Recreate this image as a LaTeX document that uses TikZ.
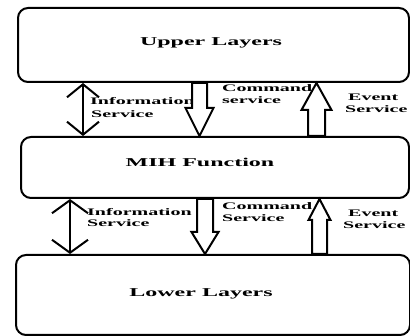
\documentclass[tikz,border=0pt]{standalone}
\usepackage{fontspec}
\newfontfamily\diafont{Liberation Serif}[FakeStretch=2.0]
\usetikzlibrary{arrows.meta,calc}
\newcommand\mihdown[5]{%
  \draw[blockarrow] let \p1=(#1), \p2=(#2) in
    (\x1-#3,\y1) -- (\x1-#3,\y2+#5) -- (\x1-#4,\y2+#5) -- (\x1,\y2)
    -- (\x1+#4,\y2+#5) -- (\x1+#3,\y2+#5) -- (\x1+#3,\y1) -- cycle;}
\newcommand\mihup[5]{%
  \draw[blockarrow] let \p1=(#1), \p2=(#2) in
    (\x1-#3,\y1) -- (\x1-#3,\y2-#5) -- (\x1-#4,\y2-#5) -- (\x1,\y2)
    -- (\x1+#4,\y2-#5) -- (\x1+#3,\y2-#5) -- (\x1+#3,\y1) -- cycle;}
\tikzset{
  layerbox/.style={draw, line width=2pt, rounded corners=10pt, inner sep=0pt, anchor=north west},
  boxtext/.style={font=\diafont\bfseries\fontsize{12}{14}\selectfont, inner sep=0pt, anchor=base},
  labeltext/.style={font=\diafont\bfseries\fontsize{10}{12}\selectfont, inner sep=0pt, anchor=base west},
  blockarrow/.style={draw, fill=white, line width=2pt, line join=miter},
  infoarrow/.style={line width=2pt, {Straight Barb[length=13pt,width=#1]}-{Straight Barb[length=13pt,width=#1]}}
}
\begin{document}
\begin{tikzpicture}[x=1pt,y=-1pt]
\useasboundingbox (0,0) rectangle (410,336);
\fill[white] (0,0) rectangle (410,336);
% boxes
\node[layerbox, minimum width=391pt, minimum height=74pt] (upper) at (17,7) {};
\node[layerbox, minimum width=388pt, minimum height=61pt] (mih) at (20,136) {};
\node[layerbox, minimum width=394pt, minimum height=80pt] (lower) at (15,254) {};
\node[boxtext] (uppertext) at (211,46) {Upper Layers};
\node[boxtext] (mihtext) at (200,166.5) {MIH Function};
\node[boxtext] (lowertext) at (201,296.5) {Lower Layers};
% labels, upper gap
\node[labeltext] (info1a) at (90,105) {Information};
\node[labeltext] (info1b) at (91,118) {Service};
\node[labeltext] (cmd1a) at (222,92) {Command};
\node[labeltext] (cmd1b) at (222,104) {service};
\node[labeltext] (ev1a) at (348,101) {Event};
\node[labeltext] (ev1b) at (345,113) {Service};
% labels, lower gap
\node[labeltext] (info2a) at (87,216) {Information};
\node[labeltext] (info2b) at (87,227) {Service};
\node[labeltext] (cmd2a) at (222,210) {Command};
\node[labeltext] (cmd2b) at (222,222) {Service};
\node[labeltext] (ev2a) at (348,217) {Event};
\node[labeltext] (ev2b) at (343,229) {Service};
% arrow positions
\coordinate (infoT) at (83,0);
\coordinate (infoB) at (70,0);
\coordinate (cmdT) at (199.5,0);
\coordinate (cmdB) at (205,0);
\coordinate (evT) at (316.5,0);
\coordinate (evB) at (319.5,0);
% information arrows
\draw[infoarrow=32pt] (upper.south -| infoT) -- (mih.north -| infoT);
\draw[infoarrow=36pt] (mih.south -| infoB) -- (lower.north -| infoB);
% command arrows
\mihdown{upper.south -| cmdT}{mih.north -| cmdT}{7.5pt}{14pt}{28pt}
\mihdown{mih.south -| cmdB}{lower.north -| cmdB}{8pt}{13.5pt}{22pt}
% event arrows
\mihup{mih.north -| evT}{upper.south -| evT}{8.5pt}{15pt}{27pt}
\mihup{lower.north -| evB}{mih.south -| evB}{7.5pt}{11pt}{21pt}
\end{tikzpicture}
\end{document}
